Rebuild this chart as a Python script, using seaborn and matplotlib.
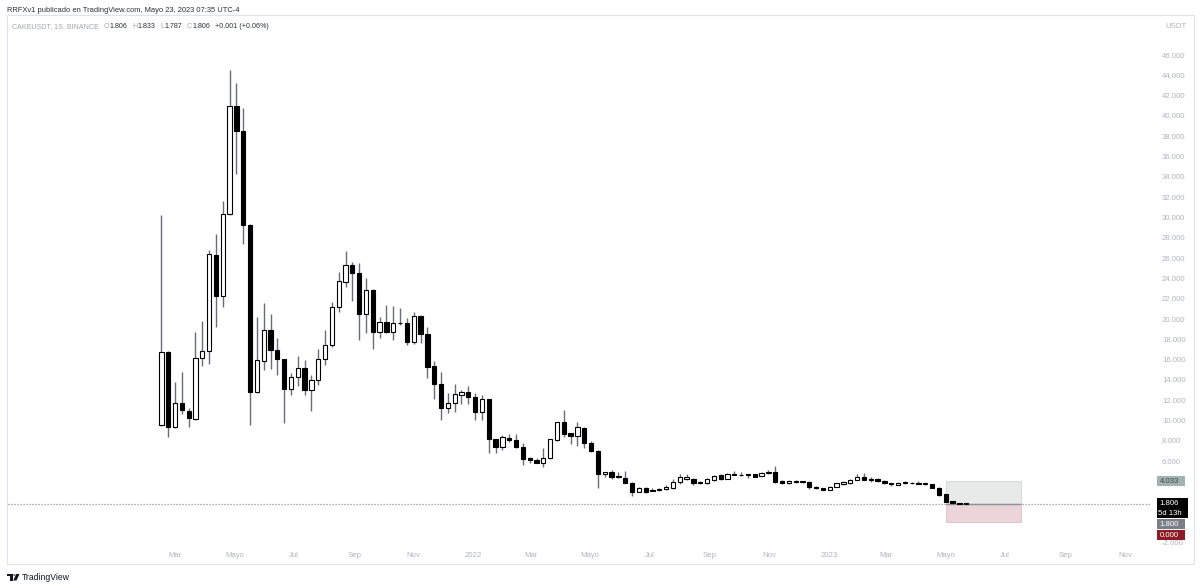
import numpy as np
import pandas as pd
import matplotlib
matplotlib.use("Agg")
import matplotlib.pyplot as plt
import matplotlib.dates as mdates
from matplotlib.patches import Rectangle, Circle, Polygon
import seaborn as sns

# ---------------- data (weekly CAKEUSDT candles) ----------------
opens = [9.56, 16.75, 9.39, 11.75, 10.97, 10.15, 16.2, 16.8, 26.3, 22.3,
         30.3, 41.0, 38.5, 29.3, 12.8, 15.9, 18.9, 16.95, 16.05, 13.07,
         14.25, 15.2, 13.0, 14.0, 16.1, 17.44, 21.15, 23.6, 25.3, 24.56,
         20.5, 22.9, 18.7, 19.7, 18.7, 19.6, 19.6, 17.7, 20.3, 18.5,
         15.37, 13.6, 11.2, 11.7, 12.5, 12.84, 12.35, 10.8, 12.1, 8.15,
         7.42, 8.3, 8.05, 7.42, 6.27, 6.1, 5.78, 6.27, 8.08, 9.82,
         8.74, 8.47, 9.29, 7.81, 7.02, 4.7, 4.9, 4.53, 4.37, 3.87,
         2.99, 3.32, 3.15, 3.18, 3.22, 3.32, 3.91, 4.2, 4.24, 3.97,
         3.81, 4.14, 4.63, 4.24, 4.68, 4.6, 4.72, 4.7, 4.53, 4.88,
         4.9, 4.07, 3.81, 3.96, 3.98, 3.97, 3.48, 3.32, 3.15, 3.48,
         3.71, 3.81, 4.14, 4.46, 4.18, 4.2, 4.07, 3.81, 3.65, 3.86,
         3.82, 3.87, 3.76, 3.71, 3.38, 2.73, 2.07, 1.85, 1.806]
highs = [30.2, 16.8, 13.8, 14.75, 11.2, 18.7, 19.8, 26.8, 28.4, 31.65,
         44.5, 43.2, 40.75, 29.4, 20.2, 21.6, 20.5, 18.1, 16.1, 14.65,
         16.35, 15.96, 14.5, 17.05, 18.9, 21.7, 24.6, 26.7, 25.6, 25.5,
         24.0, 22.95, 20.2, 21.4, 21.3, 21.05, 20.1, 20.7, 20.4, 19.2,
         15.86, 14.8, 12.7, 13.6, 13.0, 13.4, 12.7, 12.5, 12.15, 8.2,
         8.57, 8.67, 8.64, 7.75, 6.43, 6.27, 7.26, 8.2, 9.88, 11.03,
         8.8, 9.88, 9.35, 7.98, 7.05, 4.96, 5.12, 4.96, 5.02, 3.9,
         3.48, 3.48, 3.4, 3.35, 3.65, 4.2, 4.7, 4.7, 4.37, 4.03,
         4.3, 4.66, 4.73, 4.8, 5.05, 4.9, 4.74, 4.76, 4.9, 5.12,
         5.55, 4.1, 4.12, 4.1, 4.08, 4.0, 3.52, 3.36, 3.52, 3.85,
         4.02, 4.2, 4.73, 4.8, 4.42, 4.3, 4.1, 3.85, 3.95, 4.0,
         3.95, 4.0, 3.88, 3.76, 3.42, 2.78, 2.1, 1.9, 1.833]
lows = [9.5, 8.4, 9.3, 10.6, 9.4, 10.1, 15.4, 15.6, 19.2, 21.15,
        30.2, 34.25, 27.4, 9.55, 12.7, 15.0, 15.1, 14.5, 9.72, 12.5,
        13.4, 12.5, 10.97, 13.5, 15.5, 17.2, 20.7, 23.2, 21.8, 17.9,
        18.6, 17.0, 18.15, 18.6, 17.9, 19.4, 17.4, 17.55, 17.6, 14.15,
        12.1, 10.1, 10.77, 10.87, 11.6, 11.6, 10.05, 10.05, 6.83, 6.83,
        7.1, 7.85, 7.26, 5.6, 5.84, 5.78, 5.39, 6.2, 7.98, 8.4,
        7.68, 7.52, 7.26, 6.93, 3.32, 4.46, 4.24, 4.3, 3.8, 2.56,
        2.93, 2.83, 3.08, 3.08, 3.15, 3.22, 3.71, 4.18, 3.65, 3.74,
        3.74, 4.04, 4.14, 4.24, 4.62, 4.58, 4.3, 4.4, 4.5, 4.7,
        3.81, 3.78, 3.78, 3.85, 3.86, 3.22, 3.3, 3.12, 3.12, 3.45,
        3.68, 3.78, 4.1, 4.1, 3.95, 3.98, 3.78, 3.55, 3.62, 3.75,
        3.7, 3.7, 3.66, 3.34, 2.6, 1.98, 1.82, 1.78, 1.787]
closes = [16.75, 9.39, 11.75, 11.0, 10.22, 16.2, 16.85, 26.4, 22.3, 30.3,
          41.0, 38.5, 29.3, 12.8, 15.95, 18.9, 16.9, 16.05, 13.07, 14.25,
          15.14, 13.0, 14.0, 16.1, 17.44, 21.15, 23.7, 25.3, 24.56, 20.5,
          22.9, 18.75, 19.7, 18.7, 19.6, 19.65, 17.7, 20.3, 18.5, 15.3,
          13.6, 11.2, 11.75, 12.58, 12.84, 12.35, 10.8, 12.1, 8.15, 7.42,
          8.34, 8.08, 7.42, 6.2, 6.1, 5.84, 6.27, 8.15, 9.82, 8.67,
          8.47, 9.39, 7.81, 6.99, 4.7, 4.9, 4.46, 4.4, 3.81, 2.99,
          3.38, 2.99, 3.1, 3.22, 3.48, 3.97, 4.46, 4.4, 3.81, 3.81,
          4.24, 4.56, 4.24, 4.7, 4.72, 4.65, 4.68, 4.46, 4.8, 4.92,
          3.91, 3.81, 4.07, 3.98, 3.99, 3.48, 3.32, 3.15, 3.48, 3.81,
          3.97, 4.14, 4.46, 4.14, 4.2, 4.07, 3.81, 3.7, 3.87, 3.88,
          3.83, 3.78, 3.77, 3.38, 2.66, 2.0, 1.84, 1.805, 1.806]
first_week = "2021-02-15"

month_ticks = ["2021-03-01", "2021-05-01", "2021-07-01", "2021-09-01", "2021-11-01",
               "2022-01-01", "2022-03-01", "2022-05-01", "2022-07-01", "2022-09-01",
               "2022-11-01", "2023-01-01", "2023-03-01", "2023-05-01", "2023-07-01",
               "2023-09-01", "2023-11-01"]
month_labels = ["Mar", "Mayo", "Jul", "Sep", "Nov", "2022", "Mar", "Mayo", "Jul", "Sep",
                "Nov", "2023", "Mar", "Mayo", "Jul", "Sep", "Nov"]
price_ticks = [-2, 6, 8, 10, 12, 14, 16, 18, 20, 22, 24, 26, 28, 30, 32, 34, 36, 38, 40, 42, 44, 46]

position_start = "2023-05-01"
position_end = "2023-07-17"
target_price = 4.033
entry_price = 1.800
stop_price = 0.000
last_price = 1.806
countdown = "5d 13h"

header = "RRFXv1 publicado en TradingView.com, Mayo 23, 2023 07:35 UTC-4"
symbol = "CAKEUSDT, 1S, BINANCE"
ohlc_labels = ["O", "H", "L", "C"]
ohlc_values = ["1.806", "1.833", "1.787", "1.806"]
change_text = "+0.001 (+0.06%)"

# ---------------- style ----------------
sns.set_theme(style="white")
plt.rcParams["font.family"] = ["Liberation Sans", "DejaVu Sans"]

W, H = 1200, 588
fig = plt.figure(figsize=(W / 100, H / 100), dpi=100)
fig.patch.set_facecolor("white")

AX_L, AX_R, AX_T, AX_B = 8, 1150, 17, 546
ax = fig.add_axes([AX_L / W, 1 - AX_B / H, (AX_R - AX_L) / W, (AX_B - AX_T) / H])
ax.set_facecolor("white")

df = pd.DataFrame({"date": pd.date_range(first_week, periods=len(opens), freq="7D"),
                   "open": opens, "high": highs, "low": lows, "close": closes})
df["x"] = mdates.date2num(df["date"])
df["up"] = df["close"] >= df["open"]

x0 = mdates.date2num(pd.Timestamp(first_week))
ax.set_xlim(x0 - 157.4, x0 + 1014.6)
ax.set_ylim(-2.36, 49.75)

# position tool (long position) boxes
ps = mdates.date2num(pd.Timestamp(position_start))
pe = mdates.date2num(pd.Timestamp(position_end))
ax.add_patch(Rectangle((ps, entry_price), pe - ps, target_price - entry_price,
                       facecolor="#e6ebea", edgecolor="#d6dcdb", lw=0.8, zorder=1))
ax.add_patch(Rectangle((ps, stop_price), pe - ps, entry_price - stop_price,
                       facecolor="#ecd5d8", edgecolor="#e3c6ca", lw=0.8, zorder=1))
ax.hlines(entry_price, ps, pe, color="#8e929b", lw=1.0, zorder=1.5)

# last price dotted line
ax.axhline(last_price, color="#8e929b", lw=0.9, ls=(0, (1, 1.4)), zorder=1.6)

# wicks and bodies
ax.vlines(df["x"], df["low"], df["high"], color="#6a6d76", lw=1.0, zorder=2)
body_h = np.maximum((df["close"] - df["open"]).abs(), 0.05)
body_b = np.minimum(df["open"], df["close"])
ax.bar(df["x"], body_h, bottom=body_b, width=4.4,
       color=np.where(df["up"], "white", "black"), edgecolor="black", linewidth=0.8, zorder=3)

# axes styling
sns.despine(ax=ax, left=True, bottom=True, right=True, top=True)
ax.grid(False)
ax.yaxis.tick_right()
ax.set_yticks(price_ticks)
ax.set_yticklabels([f"{v:.3f}" for v in price_ticks])
ax.tick_params(axis="y", length=0, pad=8.6, labelsize=5.6, labelcolor="#b2b5be")
ax.set_xticks(mdates.date2num(pd.to_datetime(month_ticks)))
ax.set_xticklabels(month_labels)
ax.tick_params(axis="x", length=0, pad=4.0, labelsize=5.6, labelcolor="#b2b5be")
ax.set_xlabel("")
ax.set_ylabel("")

# ---------------- price tags on the right axis ----------------
def fy(ypx):
    return 1 - ypx / H

def fx(xpx):
    return xpx / W

def data_to_px(v):
    fig.canvas.draw()
    return H - ax.transData.transform((0, v))[1]

def tag_box(x1, x2, y1, y2, color):
    fig.add_artist(Rectangle((fx(x1), fy(y2)), fx(x2) - fx(x1), fy(y1) - fy(y2),
                             transform=fig.transFigure, facecolor=color, edgecolor="none", zorder=10))

def tag_text(xpx, ypx, s, color):
    fig.text(fx(xpx), fy(ypx), s, color=color, fontsize=5.6, ha="left", va="center", zorder=11)

y_t = data_to_px(target_price)
tag_box(1157, 1185, y_t - 5, y_t + 5, "#a0b3ae")
tag_text(1159.5, y_t, f"{target_price:.3f}", "#40444f")

y_l = data_to_px(last_price)
tag_box(1157, 1188, y_l - 5.5, y_l + 14.5, "#000000")
tag_text(1159.5, y_l, f"{last_price:.3f}", "white")
tag_text(1158.5, y_l + 9.5, countdown, "white")

y_e = y_l + 20.5
tag_box(1157, 1185, y_e - 5, y_e + 5, "#7b7f89")
tag_text(1159.5, y_e, f"{entry_price:.3f}", "white")

y_s = y_e + 11
tag_box(1157, 1185, y_s - 5, y_s + 5, "#8c1b25")
tag_text(1159.5, y_s, f"{stop_price:.3f}", "white")

fig.text(fx(1165), fy(27), "USDT", color="#b2b5be", fontsize=5.6, ha="left", va="center")

# panel border
fig.add_artist(Rectangle((fx(7), fy(564)), fx(1194) - fx(7), fy(15) - fy(564),
                         transform=fig.transFigure, facecolor="none", edgecolor="#e0e3eb", lw=0.8, zorder=0))

# ---------------- header texts ----------------
fig.canvas.draw()
renderer = fig.canvas.get_renderer()
fig.text(fx(7), fy(10), header, color="#2a2e39", fontsize=5.4, ha="left", va="center")

def put(xpx, ypx, s, color, size=5.1):
    t = fig.text(fx(xpx), fy(ypx), s, color=color, fontsize=size, ha="left", va="center")
    bb = t.get_window_extent(renderer=renderer)
    return xpx + bb.width

xx = put(12, 27, symbol, "#a3a6af")
xx += 5
for lab, val in zip(ohlc_labels, ohlc_values):
    xx = put(xx, 27, lab, "#a3a6af")
    xx = put(xx, 27, val, "#2a2e39")
    xx += 5
put(xx, 27, change_text, "#2a2e39")

# ---------------- TradingView logo ----------------
logo_y = 577
fig.add_artist(Rectangle((fx(7), fy(logo_y - 1)), fx(12.5) - fx(7), fy(logo_y - 3) - fy(logo_y - 1),
                         transform=fig.transFigure, facecolor="#131722", edgecolor="none"))
fig.add_artist(Rectangle((fx(9.8), fy(logo_y + 3.5)), fx(12.5) - fx(9.8), fy(logo_y - 3) - fy(logo_y + 3.5),
                         transform=fig.transFigure, facecolor="#131722", edgecolor="none"))
fig.add_artist(Circle((fx(14.3), fy(logo_y - 2)), 1.2 / W, transform=fig.transFigure,
                      facecolor="#131722", edgecolor="none"))
fig.add_artist(Polygon([(fx(16.2), fy(logo_y - 3)), (fx(19.5), fy(logo_y - 3)),
                        (fx(16.5), fy(logo_y + 3.5)), (fx(13.3), fy(logo_y + 3.5))],
                       closed=True, transform=fig.transFigure, facecolor="#131722", edgecolor="none"))
fig.text(fx(22), fy(logo_y), "TradingView", color="#131722", fontsize=6.2, ha="left", va="center")

fig.savefig("out.png", dpi=100, facecolor="white")
